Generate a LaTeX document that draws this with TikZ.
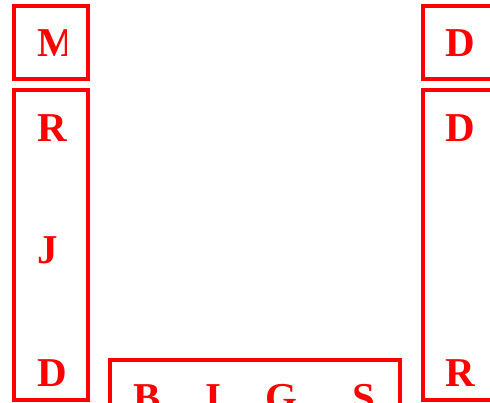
\documentclass[tikz,border=0pt]{standalone}
\usepackage{fontspec}
\setmainfont{Liberation Serif}
\usetikzlibrary{positioning}
\tikzset{
  panel/.style={draw=red, line width=3.6pt, inner sep=0pt, outer sep=0pt},
  glyph/.style={text=red, font=\fontsize{41}{41}\selectfont\bfseries, anchor=base west, inner sep=0pt}
}

\begin{document}
\begin{tikzpicture}[x=1pt, y=-1pt]
\useasboundingbox (0,0) rectangle (490,403);
\clip (0,0) rectangle (490,403);
% panels
\node[panel, minimum width=74pt, minimum height=73pt] (mbox) at (51,42.5) {};
\node[panel, minimum width=74pt, minimum height=310pt] (lcol) at (51,245) {};
\node[panel, minimum width=74pt, minimum height=73pt] (dbox) at (460,42.5) {};
\node[panel, minimum width=74pt, minimum height=310pt] (rcol) at (460,245) {};
\node[panel, minimum width=290pt, minimum height=74pt] (brow) at (255,397) {};
% letters
\begin{scope}
\clip (30,10) rectangle (66,75);
\node[glyph] (m) at (37,57) {M};
\end{scope}
\node[glyph] (r1) at (37,142) {R};
\node[glyph] (j) at (37,264) {J};
\node[glyph] (d1) at (37,386) {D};
\node[glyph] (d2) at (445,57) {D};
\node[glyph] (d3) at (445,142) {D};
\node[glyph] (r2) at (445,386) {R};
\node[glyph] (b) at (133,411) {B};
\node[glyph] (i) at (205,411) {I};
\node[glyph] (g) at (265,411) {G};
\node[glyph] (s) at (352,411) {S};
\end{tikzpicture}
\end{document}
